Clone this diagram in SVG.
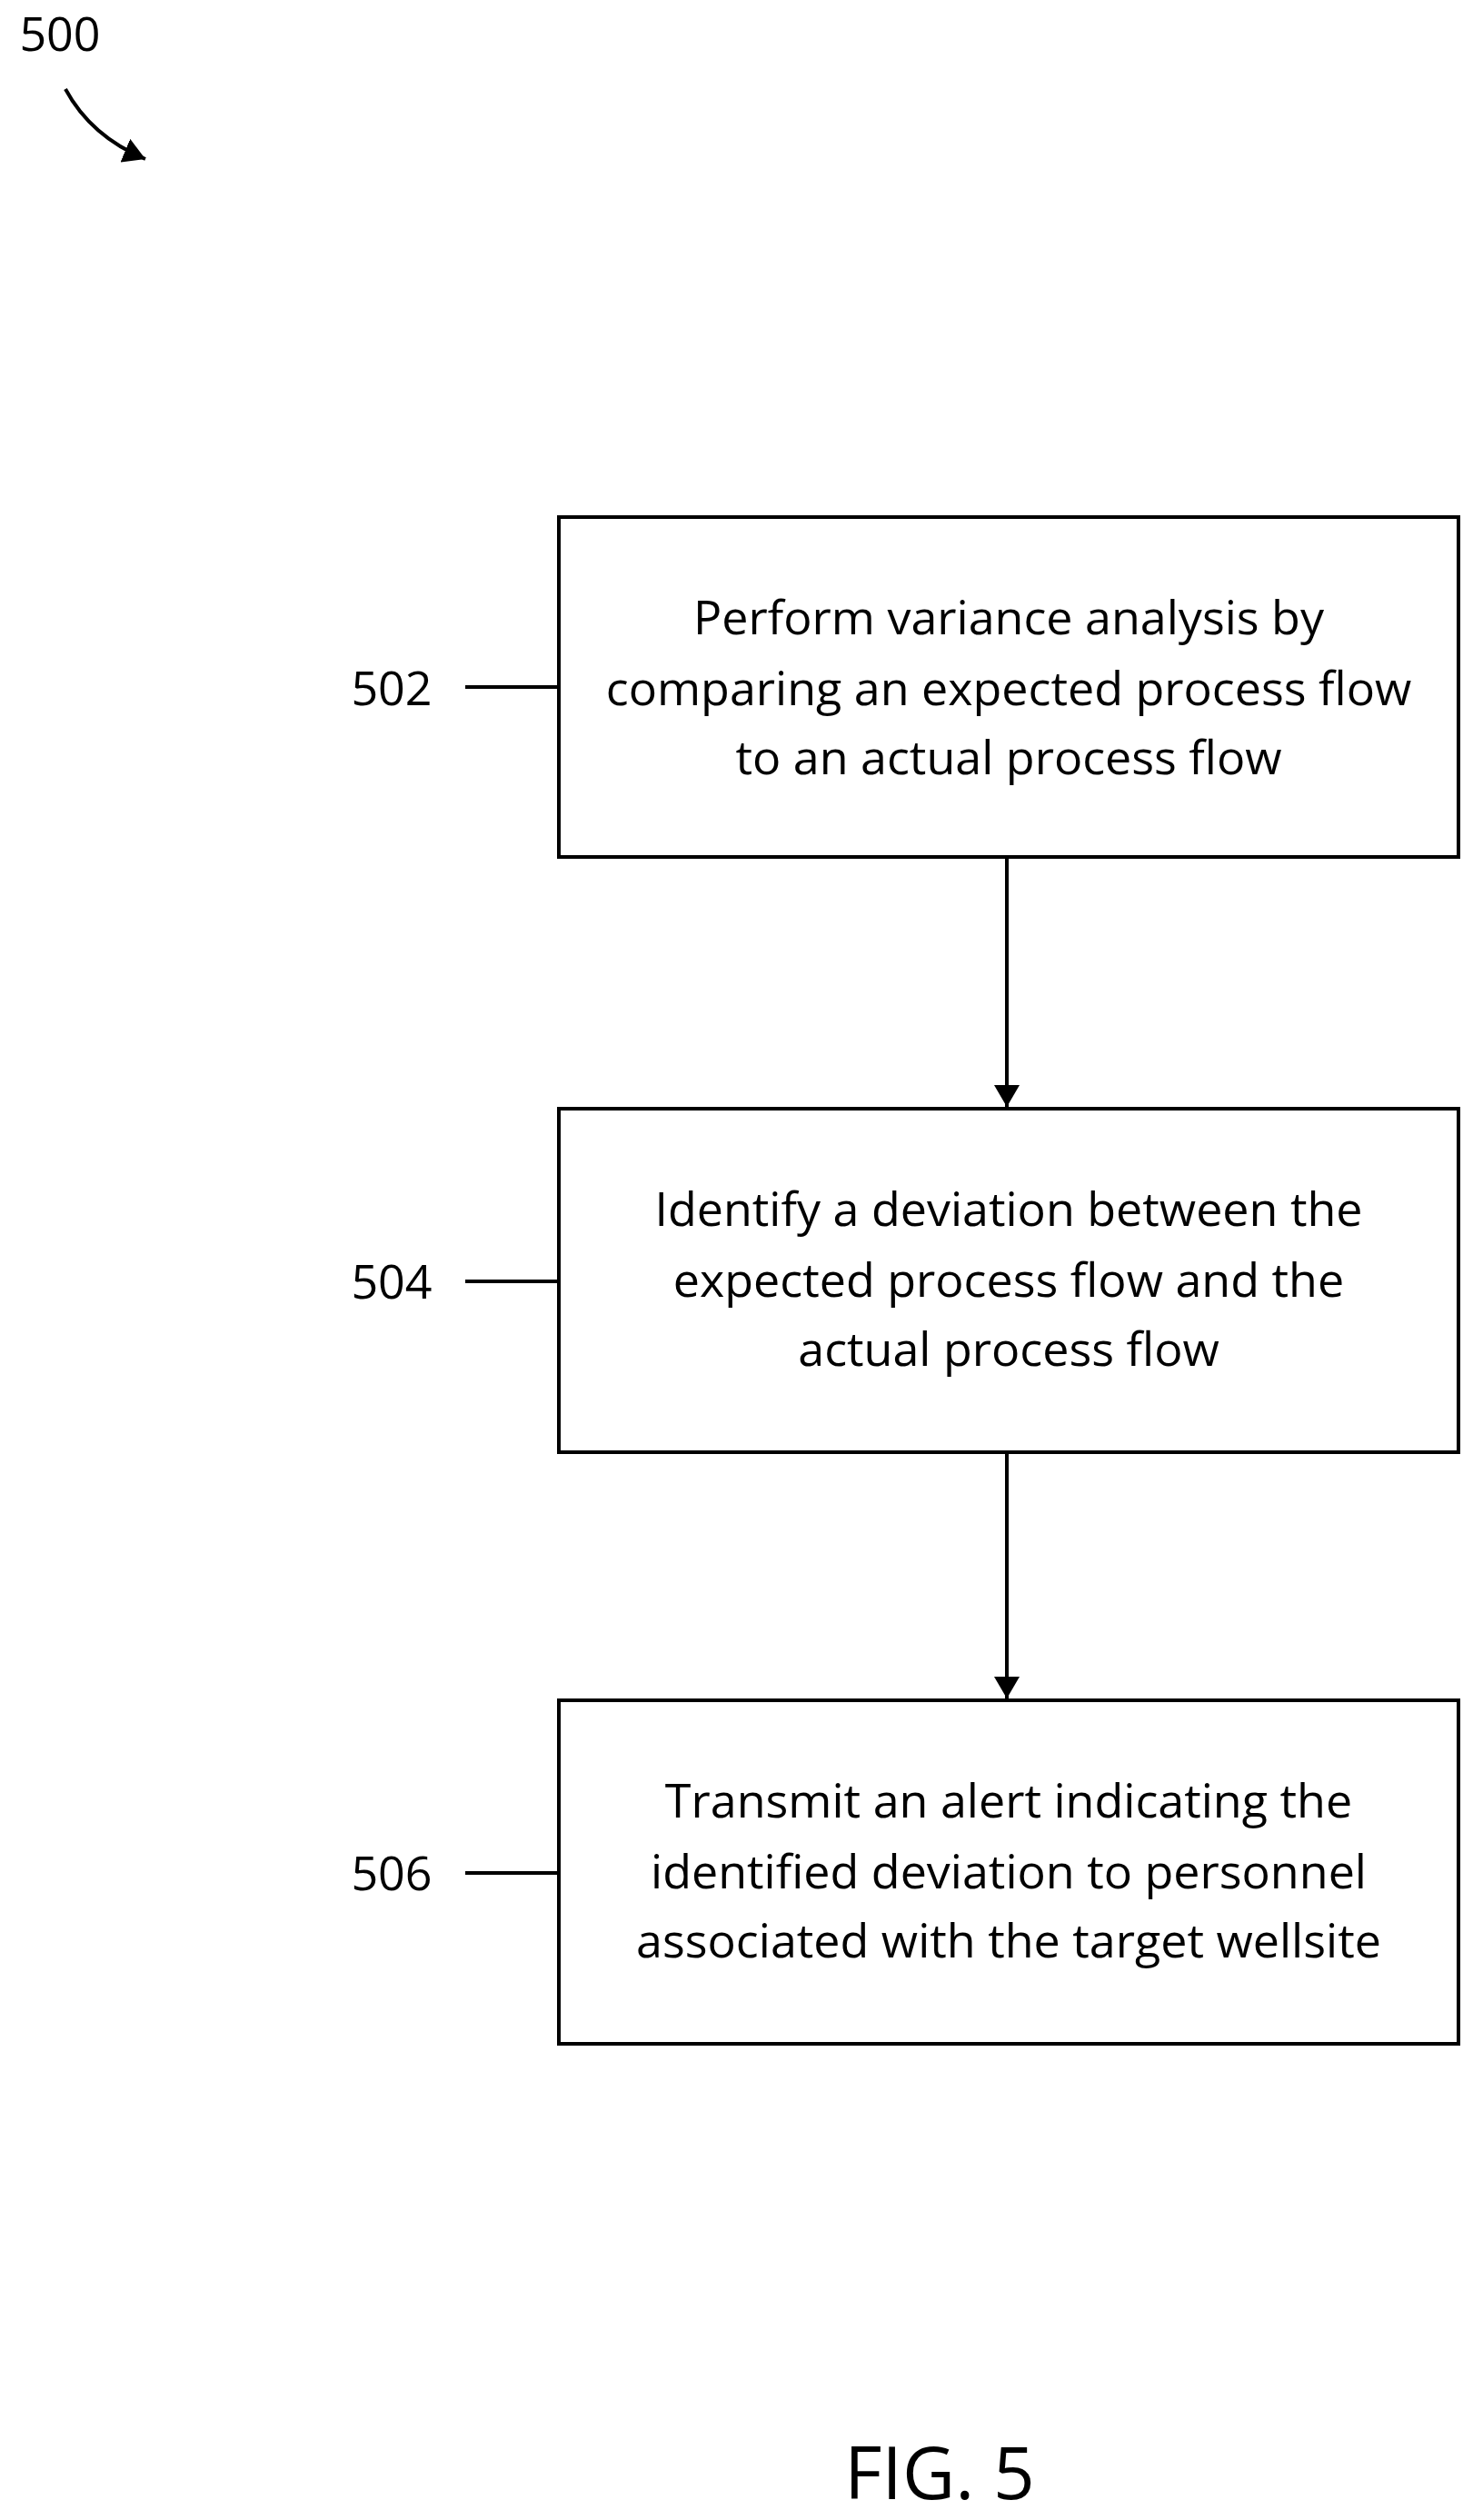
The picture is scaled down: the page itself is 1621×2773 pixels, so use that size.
<svg xmlns="http://www.w3.org/2000/svg" width="1621" height="2773" viewBox="0 0 1621 2773">
<style>
.box{fill:#fff;stroke:#000;stroke-width:4}
.t{font-family:"Open Sans","Liberation Sans",sans-serif;font-size:52px;text-anchor:middle;fill:#000}
.l{font-family:"Open Sans","Liberation Sans",sans-serif;font-size:52px;text-anchor:middle;fill:#000}
.c{stroke:#000;stroke-width:4;fill:none}
</style>
<defs><marker id="a" markerWidth="10" markerHeight="10" refX="9" refY="5" orient="auto" markerUnits="userSpaceOnUse" viewBox="0 0 10 10"><path d="M0,0 L10,5 L0,10 z"/></marker>
<marker id="b" markerWidth="24" markerHeight="28" refX="24" refY="14" orient="auto" markerUnits="userSpaceOnUse"><path d="M0,0 L24,14 L0,28 z"/></marker></defs>
<rect width="1621" height="2773" fill="#fff"/>
<g id="ref500"><text class="l" x="66" y="56">500</text>
<path class="c" d="M72,98 Q100,150 160,175" marker-end="url(#b)"/></g>
<g id="n502"><rect class="box" x="615" y="569" width="990" height="374"/>
<text class="t" x="1110" y="698">Perform variance analysis by</text>
<text class="t" x="1110" y="776">comparing an expected process flow</text>
<text class="t" x="1110" y="852">to an actual process flow</text>
<text class="l" x="431" y="776">502</text></g>
<g id="n504"><rect class="box" x="615" y="1220" width="990" height="378"/>
<text class="t" x="1110" y="1349">Identify a deviation between the</text>
<text class="t" x="1110" y="1427">expected process flow and the</text>
<text class="t" x="1110" y="1503">actual process flow</text>
<text class="l" x="431" y="1429">504</text></g>
<g id="n506"><rect class="box" x="615" y="1871" width="990" height="378"/>
<text class="t" x="1110" y="2000">Transmit an alert indicating the</text>
<text class="t" x="1110" y="2078">identified deviation to personnel</text>
<text class="t" x="1110" y="2154">associated with the target wellsite</text>
<text class="l" x="431" y="2080">506</text></g>
<g id="connectors">
<line class="c" x1="512" y1="756" x2="615" y2="756"/>
<line class="c" x1="512" y1="1410" x2="615" y2="1410"/>
<line class="c" x1="512" y1="2061" x2="615" y2="2061"/>
<line class="c" x1="1108" y1="943" x2="1108" y2="1218" marker-end="url(#b)"/>
<line class="c" x1="1108" y1="1598" x2="1108" y2="1869" marker-end="url(#b)"/>
</g>
<text x="1034" y="2750" style="font-family:'Open Sans','Liberation Sans',sans-serif;font-size:80px;text-anchor:middle">FIG. 5</text>
</svg>
